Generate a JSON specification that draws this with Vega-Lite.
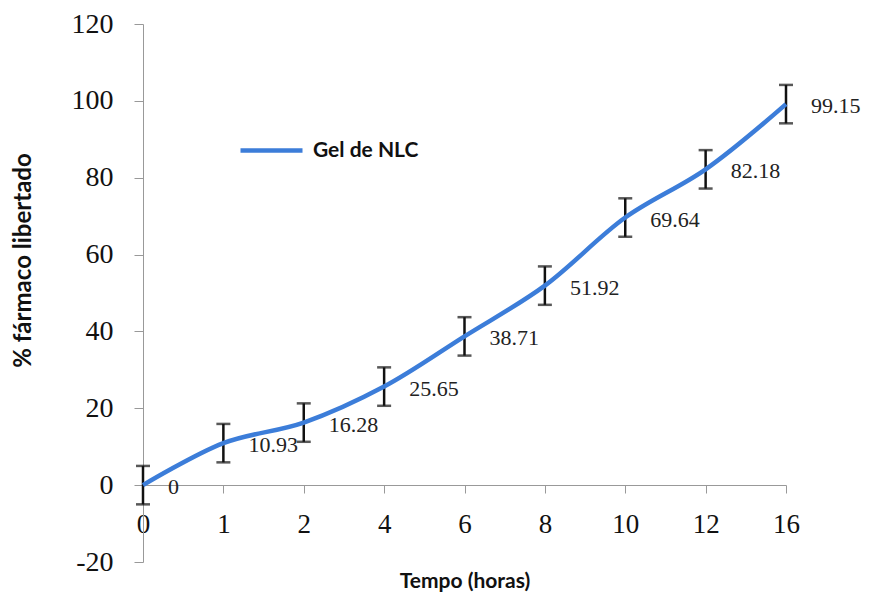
{
  "$schema": "https://vega.github.io/schema/vega-lite/v6.json",
  "width": 643,
  "height": 538,
  "autosize": {"type": "none"},
  "padding": {"left": 143, "top": 24, "right": 85, "bottom": 32},
  "background": "white",
  "config": {"view": {"stroke": null}},
  "data": {
    "values": [
      {"t": "0", "v": 0, "lo": -5, "hi": 5, "label": "0", "series": "Gel de NLC"},
      {"t": "1", "v": 10.93, "lo": 5.93, "hi": 15.93, "label": "10.93", "series": "Gel de NLC"},
      {"t": "2", "v": 16.28, "lo": 11.28, "hi": 21.28, "label": "16.28", "series": "Gel de NLC"},
      {"t": "4", "v": 25.65, "lo": 20.65, "hi": 30.65, "label": "25.65", "series": "Gel de NLC"},
      {"t": "6", "v": 38.71, "lo": 33.71, "hi": 43.71, "label": "38.71", "series": "Gel de NLC"},
      {"t": "8", "v": 51.92, "lo": 46.92, "hi": 56.92, "label": "51.92", "series": "Gel de NLC"},
      {"t": "10", "v": 69.64, "lo": 64.64, "hi": 74.64, "label": "69.64", "series": "Gel de NLC"},
      {"t": "12", "v": 82.18, "lo": 77.18, "hi": 87.18, "label": "82.18", "series": "Gel de NLC"},
      {"t": "16", "v": 99.15, "lo": 94.15, "hi": 104.15, "label": "99.15", "series": "Gel de NLC"}
    ]
  },
  "encoding": {
    "x": {
      "field": "t",
      "type": "ordinal",
      "sort": ["0", "1", "2", "4", "6", "8", "10", "12", "16"],
      "scale": {"type": "point", "padding": 0},
      "axis": {
        "title": "Tempo (horas)",
        "titleFont": "Lato",
        "titleFontWeight": "bold",
        "titleFontSize": 21,
        "titleColor": "#111",
        "titlePadding": 33,
        "labelAngle": 0,
        "labelFont": "Liberation Serif",
        "labelFontSize": 27,
        "labelColor": "#111",
        "labelPadding": 18,
        "offset": -77,
        "domainColor": "#999",
        "tickColor": "#999",
        "tickSize": 8,
        "grid": false
      }
    }
  },
  "layer": [
    {
      "mark": {"type": "rule", "color": "#111", "strokeWidth": 2.5},
      "encoding": {
        "y": {"field": "lo", "type": "quantitative"},
        "y2": {"field": "hi"}
      }
    },
    {
      "mark": {"type": "tick", "color": "#111", "thickness": 2.5, "size": 14, "orient": "horizontal"},
      "encoding": {"y": {"field": "lo", "type": "quantitative"}}
    },
    {
      "mark": {"type": "tick", "color": "#111", "thickness": 2.5, "size": 14, "orient": "horizontal"},
      "encoding": {"y": {"field": "hi", "type": "quantitative"}}
    },
    {
      "mark": {"type": "line", "interpolate": "catmull-rom", "strokeWidth": 4.5},
      "encoding": {
        "y": {
          "field": "v",
          "type": "quantitative",
          "scale": {"domain": [-20, 120], "nice": false},
          "axis": {
            "title": "% fármaco libertado",
            "titleFont": "Lato",
            "titleFontWeight": "bold",
            "titleFontSize": 24,
            "titleColor": "#111",
            "titleY": 236,
            "titleX": -120,
            "titleAlign": "center",
            "titleBaseline": "middle",
            "labelFont": "Liberation Serif",
            "labelFontSize": 28,
            "labelColor": "#111",
            "labelPadding": 21,
            "labelExpr": "replace(datum.label, '−', '-')",
            "values": [-20, 0, 20, 40, 60, 80, 100, 120],
            "domainColor": "#999",
            "tickColor": "#999",
            "tickSize": 9,
            "grid": false
          }
        },
        "color": {
          "field": "series",
          "type": "nominal",
          "scale": {"range": ["#3C7DD9"]},
          "legend": {
            "title": null,
            "orient": "none",
            "legendX": 95,
            "legendY": 93,
            "symbolType": "stroke",
            "symbolSize": 3844,
            "symbolStrokeWidth": 4.5,
            "labelFont": "Lato",
            "labelFontWeight": "bold",
            "labelFontSize": 21,
            "labelColor": "#111",
            "labelOffset": 8,
            "padding": 0
          }
        }
      }
    },
    {
      "mark": {"type": "text", "align": "left", "baseline": "middle", "dx": 25, "dy": 2, "font": "Liberation Serif", "fontSize": 22, "color": "#222"},
      "encoding": {
        "y": {"field": "v", "type": "quantitative"},
        "text": {"field": "label"}
      }
    }
  ]
}
